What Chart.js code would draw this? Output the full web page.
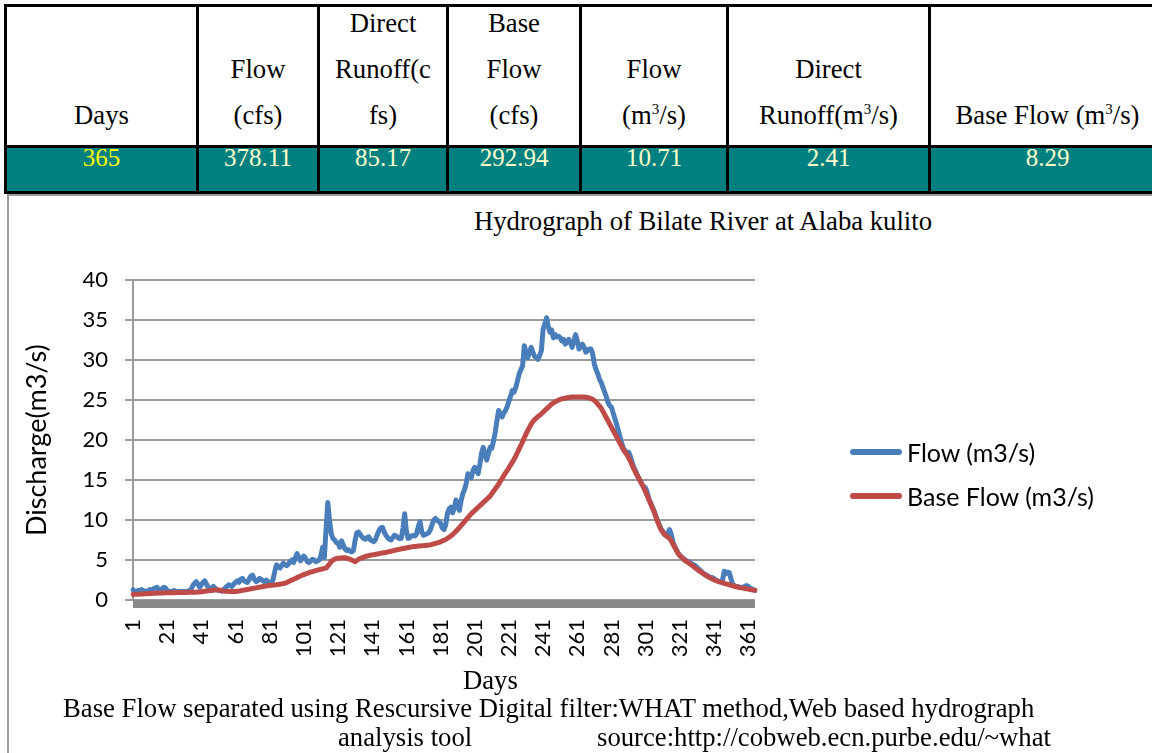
<!DOCTYPE html>
<html><head><meta charset="utf-8">
<script src="https://cdn.jsdelivr.net/npm/chart.js@4.4.0/dist/chart.umd.min.js"></script>
<style>
html,body{margin:0;padding:0;background:#fff;}
body{width:1152px;height:753px;overflow:hidden;position:relative;}
.serif{font-family:"Liberation Serif","Times New Roman",serif;color:#000;}
.sans{font-family:Lato,"Open Sans",sans-serif;color:#000;}
.hl{position:absolute;background:#000;}
.hcell{position:absolute;top:7px;height:131px;display:flex;flex-direction:column;justify-content:flex-end;align-items:center;font-size:26.7px;line-height:46px;text-align:center;white-space:nowrap;}
.dcell{position:absolute;top:146px;height:24px;font-size:25px;line-height:24px;text-align:center;color:#ffffcc;white-space:nowrap;}
.sup{font-size:15px;position:relative;top:-10px;line-height:0;}
.abs{position:absolute;white-space:pre;}
</style>
</head>
<body>
<div id="teal" style="position:absolute;left:4px;top:147px;width:1160px;height:45px;background:#008080;"></div>
<div id="table"></div>
<div style="position:absolute;left:7px;top:194px;width:1150px;height:570px;border-top:2px solid #9c9c9c;border-left:2px solid #9c9c9c;"></div>
<div class="abs serif" style="left:474px;top:206px;font-size:26.7px;line-height:30px;">Hydrograph of Bilate River at Alaba kulito</div>
<canvas id="c" width="1152" height="430" style="position:absolute;left:0;top:250px;"></canvas>
<div style="position:absolute;left:850px;top:449px;width:52px;height:6px;border-radius:3px;background:#4A7EBB"></div>
<div class="abs sans" style="left:907px;top:437px;font-size:25px;line-height:30px;">Flow (m3/s)</div>
<div style="position:absolute;left:850px;top:493px;width:52px;height:6px;border-radius:3px;background:#BE4B48"></div>
<div class="abs sans" style="left:907px;top:481px;font-size:25px;line-height:30px;">Base Flow (m3/s)</div>
<div class="abs serif" style="left:463px;top:666px;font-size:26.7px;line-height:28px;">Days</div>
<div class="abs serif" style="left:63px;top:694px;font-size:26.7px;line-height:28px;">Base Flow separated using Rescursive Digital filter:WHAT method,Web based hydrograph</div>
<div class="abs serif" style="left:338px;top:723px;font-size:26.7px;line-height:28px;">analysis tool</div>
<div class="abs serif" style="left:597px;top:723px;font-size:26.7px;line-height:28px;">source:http://cobweb.ecn.purbe.edu/~what</div>
<script>
// ---- summary table ----
const tableHeaders = [
  ['Days'],
  ['Flow','(cfs)'],
  ['Direct','Runoff(c','fs)'],
  ['Base','Flow','(cfs)'],
  ['Flow','(m<span class="sup">3</span>/s)'],
  ['Direct','Runoff(m<span class="sup">3</span>/s)'],
  ['Base Flow (m<span class="sup">3</span>/s)']
];
const tableValues = ['365','378.11','85.17','292.94','10.71','2.41','8.29'];
const tableValueColors = ['#ffff00','#ffffcc','#ffffcc','#ffffcc','#ffffcc','#ffffcc','#ffffcc'];

// ---- chart data ----
const xTickLabels = ['1','21','41','61','81','101','121','141','161','181','201','221','241','261','281','301','321','341','361'];
const dayCount = 365;
const flow = [
1.3,1.1,1.0,1.2,1.1,1.3,1.2,1.0,1.1,1.2,
1.3,1.2,1.4,1.5,1.6,1.3,1.2,1.4,1.6,1.5,
1.2,1.1,1.0,1.1,1.2,1.1,1.0,1.1,1.0,1.1,
1.0,1.1,1.0,1.2,1.3,1.8,2.1,2.3,2.0,1.6,
1.9,2.2,2.4,2.0,1.6,1.5,1.4,1.7,1.5,1.3,
1.2,1.2,1.1,1.3,1.5,1.7,1.9,1.8,1.7,2.0,
2.2,2.4,2.2,2.6,2.7,2.4,2.3,2.2,2.6,3.0,
3.1,2.6,2.3,2.4,2.7,2.6,2.4,2.3,2.5,2.3,
2.1,2.0,2.6,3.6,4.4,4.2,4.0,4.3,4.6,4.4,
4.3,4.5,4.8,5.0,4.7,5.3,5.8,5.4,4.9,5.2,
5.5,5.2,4.8,4.7,4.9,5.1,5.0,4.8,4.9,5.0,
5.6,6.6,5.3,9.0,12.2,10.0,8.3,7.7,7.5,7.2,
7.1,6.6,7.4,6.9,6.4,6.2,6.3,6.1,6.0,6.2,
7.5,8.4,8.5,8.2,7.9,7.7,7.6,7.8,7.9,7.5,
7.4,7.3,7.6,8.2,8.7,9.0,9.1,8.5,8.1,7.8,
7.6,7.5,7.8,8.1,8.0,7.8,7.7,7.7,9.0,10.8,
8.6,7.7,7.8,8.0,8.1,8.0,8.3,9.2,9.8,8.5,
8.1,8.2,8.3,8.4,8.8,9.4,10.0,10.2,10.0,9.8,
9.6,9.0,8.8,9.4,10.8,11.4,11.6,10.9,11.5,12.5,
12.0,11.2,12.4,13.3,13.8,14.6,15.8,15.5,15.3,16.2,
16.6,16.2,15.8,17.0,18.4,19.1,18.2,17.5,18.3,19.1,
19.0,19.9,21.0,22.5,23.7,23.2,22.9,23.4,23.7,24.2,
24.9,25.5,26.2,26.0,26.6,27.4,28.3,28.8,29.3,31.8,
31.0,30.3,31.0,31.6,31.0,30.5,30.3,30.1,30.6,31.2,
33.9,34.5,35.3,34.2,33.5,33.8,32.8,33.2,32.9,33.0,
32.8,32.4,32.6,32.0,32.3,32.6,32.2,31.6,32.4,33.2,
32.4,31.4,31.8,32.0,31.6,31.0,31.2,31.4,31.4,30.8,
29.5,28.8,28.3,27.6,27.2,26.6,26.0,25.4,24.7,24.3,
24.1,23.4,22.7,22.0,21.2,20.4,19.6,19.0,18.6,18.4,
18.5,18.0,17.3,16.6,16.2,15.7,15.2,14.9,14.4,14.2,
14.0,13.4,12.6,12.1,11.6,11.1,10.5,9.9,9.4,8.9,
8.6,8.3,8.1,8.4,8.8,8.2,7.2,6.7,6.3,5.9,
5.6,5.4,5.2,5.0,4.9,4.8,4.7,4.5,4.4,4.3,
4.1,3.9,3.7,3.5,3.3,3.2,3.1,2.9,2.8,2.8,
2.7,2.5,2.4,2.3,2.3,2.5,3.6,3.3,3.5,3.4,
2.6,1.9,1.8,1.7,1.7,1.6,1.6,1.6,1.7,1.8,
1.7,1.5,1.4,1.3,1.2
];
const baseFlow = [
0.70,0.71,0.72,0.73,0.74,0.75,0.76,0.77,0.78,0.80,
0.81,0.82,0.83,0.84,0.85,0.86,0.87,0.88,0.89,0.90,
0.90,0.91,0.91,0.92,0.92,0.93,0.93,0.94,0.94,0.95,
0.95,0.95,0.96,0.96,0.97,0.97,0.98,0.98,0.99,1.00,
1.03,1.06,1.09,1.12,1.15,1.18,1.20,1.22,1.24,1.25,
1.24,1.21,1.17,1.13,1.10,1.08,1.06,1.05,1.05,1.05,
1.07,1.10,1.13,1.16,1.20,1.24,1.28,1.32,1.36,1.40,
1.44,1.48,1.52,1.56,1.60,1.64,1.68,1.72,1.76,1.80,
1.82,1.84,1.86,1.88,1.90,1.94,1.98,2.02,2.06,2.10,
2.20,2.30,2.40,2.50,2.60,2.70,2.80,2.90,3.00,3.10,
3.18,3.26,3.34,3.42,3.50,3.56,3.62,3.68,3.74,3.80,
3.85,3.90,3.95,4.00,4.25,4.50,4.80,5.00,5.10,5.20,
5.22,5.24,5.26,5.28,5.30,5.25,5.18,5.10,5.00,4.90,
4.80,4.95,5.10,5.20,5.28,5.36,5.44,5.50,5.55,5.60,
5.64,5.68,5.72,5.76,5.80,5.84,5.88,5.92,5.96,6.00,
6.05,6.10,6.15,6.20,6.25,6.30,6.35,6.40,6.44,6.48,
6.52,6.56,6.60,6.64,6.68,6.70,6.72,6.74,6.76,6.78,
6.80,6.82,6.84,6.86,6.90,6.96,7.02,7.08,7.14,7.20,
7.28,7.38,7.48,7.58,7.70,7.85,8.00,8.18,8.38,8.60,
8.82,9.05,9.30,9.55,9.80,10.05,10.30,10.55,10.80,11.00,
11.20,11.40,11.60,11.80,12.00,12.20,12.40,12.60,12.80,13.00,
13.30,13.60,13.90,14.20,14.50,14.85,15.20,15.55,15.90,16.20,
16.55,16.90,17.25,17.60,18.00,18.45,18.90,19.35,19.80,20.30,
20.75,21.20,21.60,22.00,22.30,22.55,22.75,22.95,23.10,23.30,
23.50,23.70,23.90,24.10,24.30,24.50,24.65,24.80,24.90,25.00,
25.08,25.15,25.20,25.25,25.30,25.33,25.36,25.38,25.40,25.40,
25.40,25.40,25.40,25.40,25.40,25.37,25.33,25.28,25.20,25.10,
24.95,24.75,24.50,24.25,24.00,23.60,23.20,22.80,22.40,22.00,
21.60,21.20,20.80,20.40,20.00,19.60,19.20,18.80,18.50,18.20,
17.80,17.40,16.90,16.45,16.00,15.60,15.20,14.80,14.40,14.00,
13.50,13.00,12.50,12.00,11.50,11.00,10.40,9.80,9.30,8.80,
8.50,8.20,8.00,7.85,7.70,7.40,7.00,6.60,6.20,5.80,
5.55,5.35,5.15,4.95,4.80,4.65,4.50,4.35,4.20,4.00,
3.85,3.70,3.55,3.40,3.25,3.10,2.98,2.86,2.74,2.62,
2.52,2.44,2.36,2.28,2.20,2.14,2.08,2.02,1.96,1.90,
1.84,1.78,1.72,1.66,1.60,1.56,1.52,1.48,1.44,1.40,
1.36,1.32,1.28,1.24,1.20
];
const days = [];
for (let d = 1; d <= dayCount; d++) days.push(String(d));

// ---- build table ----
const colEdges = [4,196,317,446,579,726,928,1164];
const tbl = document.getElementById('table');
let html = '';
html += '<div class="hl" style="left:4px;top:4px;width:1160px;height:3px"></div>';
html += '<div class="hl" style="left:4px;top:145px;width:1160px;height:3px"></div>';
html += '<div class="hl" style="left:4px;top:191px;width:1160px;height:3px"></div>';
for (let i = 0; i < colEdges.length - 1; i++) {
  html += '<div class="hl" style="left:' + colEdges[i] + 'px;top:4px;width:3px;height:190px"></div>';
  const l = colEdges[i] + 3, w = colEdges[i+1] - colEdges[i] - 3;
  html += '<div class="hcell serif" style="left:' + l + 'px;width:' + w + 'px">' +
          tableHeaders[i].map(t => '<div>' + t + '</div>').join('') + '</div>';
  html += '<div class="dcell serif" style="left:' + l + 'px;width:' + w + 'px;color:' + tableValueColors[i] + '">' + tableValues[i] + '</div>';
}
tbl.innerHTML = html;

// ---- chart ----
const axisBar = {
  id: 'axisBar',
  beforeDatasetsDraw(chart) {
    const {ctx, chartArea: a} = chart;
    ctx.save();
    ctx.fillStyle = '#898989';
    ctx.fillRect(a.left, a.bottom, a.right - a.left, 8);
    ctx.restore();
  }
};

new Chart(document.getElementById('c'), {
  type: 'line',
  data: {
    labels: days,
    datasets: [
      {label: 'Flow (m3/s)', data: flow, borderColor: '#4A7EBB', borderWidth: 5, pointRadius: 0, tension: 0, order: 2, borderJoinStyle: 'round', borderCapStyle: 'round'},
      {label: 'Base Flow (m3/s)', data: baseFlow, borderColor: '#BE4B48', borderWidth: 5, pointRadius: 0, tension: 0, order: 1, borderJoinStyle: 'round', borderCapStyle: 'round'}
    ]
  },
  options: {
    responsive: false,
    animation: false,
    layout: {padding: {top: 29, right: 397, left: 0, bottom: 0}},
    plugins: {legend: {display: false}, tooltip: {enabled: false}},
    scales: {
      x: {
        type: 'category', offset: false,
        grid: {display: false, drawTicks: false},
        border: {display: false},
        ticks: {
          autoSkip: false, minRotation: 90, maxRotation: 90, padding: 19, color: '#000',
          font: {family: 'Lato', size: 22},
          callback: function (v) { const l = this.getLabelForValue(v); return xTickLabels.includes(l) ? l : ''; }
        },
        afterFit: s => { s.height = 80; }
      },
      y: {
        min: 0, max: 40,
        ticks: {stepSize: 5, padding: 17, color: '#000', font: {family: 'Lato', size: 22}},
        grid: {color: '#9a9a9a', lineWidth: 2, tickLength: 8, drawTicks: true},
        border: {display: true, color: '#9a9a9a', width: 2},
        title: {display: true, text: 'Discharge(m3/s)', color: '#000', font: {family: 'Lato', size: 27}, padding: {top: 21, bottom: 0}},
        afterFit: s => { s.width = 133; }
      }
    }
  },
  plugins: [axisBar]
});
</script>
</body></html>
